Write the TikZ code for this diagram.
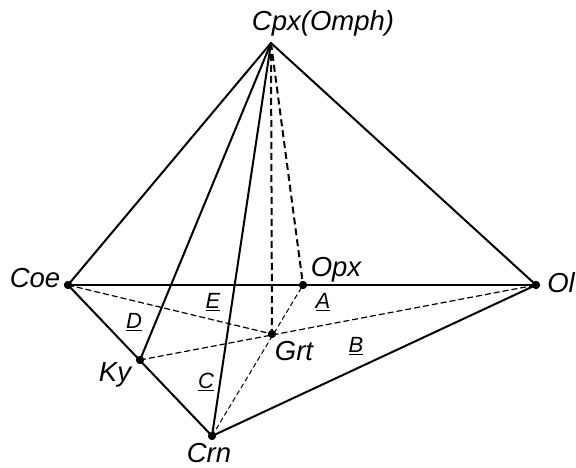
\documentclass[tikz,border=0pt]{standalone}
\usepackage{fontspec}
\setmainfont{Liberation Sans}
\begin{document}
\begin{tikzpicture}[x=1pt,y=-1pt,
  edge/.style={line width=2pt},
  thickdash/.style={line width=2pt,dash pattern=on 7pt off 4pt},
  thindash/.style={line width=1.2pt,dash pattern=on 6pt off 3pt},
  finedash/.style={line width=1pt,dash pattern=on 5pt off 3pt},
  pt/.style={circle,fill=black,inner sep=0pt,minimum size=8pt},
  lbl/.style={font=\fontsize{27.5}{31}\selectfont\itshape,inner sep=0pt},
  face/.style={font=\fontsize{22}{26}\selectfont\itshape,inner sep=0pt}]
\useasboundingbox (0,0) rectangle (576,468);
\coordinate (Cpx) at (271,43);
\node[pt] (Coe) at (68,285) {};
\node[pt] (Opx) at (303,285) {};
\node[pt] (Ol) at (536,285) {};
\node[pt] (Grt) at (272,334) {};
\node[pt] (Ky) at (140,360) {};
\node[pt] (Crn) at (212,436) {};
% solid edges
\draw[edge,line join=round] (Coe.center) -- (Cpx) -- (Ol.center);
\draw[edge] (Coe.center) -- (Ol.center);
\draw[edge,line join=round] (Coe.center) -- (Crn.center) -- (Ol.center);
\draw[edge] (Cpx) -- (Ky.center);
\draw[edge] (Cpx) -- (Crn.center);
% dashed
\draw[thickdash] (Cpx) -- (Grt.center);
\draw[thickdash] (Cpx) -- (Opx.center);
\draw[thindash] (Coe.center) -- (Grt.center);
\draw[thindash] (Ky.center) -- (Ol.center);
\draw[finedash] (Crn.center) -- (Opx.center);
% redraw dots on top
\foreach \n in {Coe,Opx,Ol,Grt,Ky,Crn} \fill (\n) circle (4pt);
% labels
\node[lbl,anchor=base] (tCpx) at (323,31) {Cpx(Omph)};
\node[lbl,anchor=base] (tCoe) at (35,287) {Coe};
\node[lbl,anchor=base] (tOpx) at (336,276) {Opx};
\node[lbl,anchor=base] (tOl) at (561,292) {Ol};
\node[lbl,anchor=base] (tGrt) at (294,360) {Grt};
\node[lbl,anchor=base] (tKy) at (115,381) {Ky};
\node[lbl,anchor=base] (tCrn) at (209,462) {Crn};
\node[face] (fA) at (323,302) {\underline{A}};
\node[face] (fB) at (356,346) {\underline{B}};
\node[face] (fC) at (206,382) {\underline{C}};
\node[face] (fD) at (134,322) {\underline{D}};
\node[face] (fE) at (213,302) {\underline{E}};
\end{tikzpicture}
\end{document}
